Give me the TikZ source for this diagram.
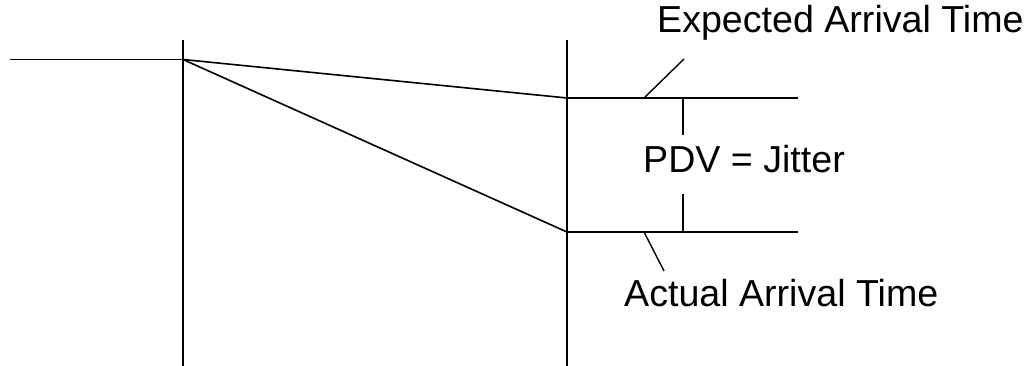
\documentclass[tikz,border=0pt]{standalone}
\usepackage{fontspec}
\setmainfont{Liberation Sans}
\begin{document}
\begin{tikzpicture}[x=1pt,y=-1pt,
  ln/.style={line width=1.6pt,line cap=butt},
  thin/.style={line width=1.4pt},
  lbl/.style={anchor=base west,inner sep=0pt,font=\fontsize{37.6}{44}\selectfont}]
\useasboundingbox (0,0) rectangle (1032,366);
% points
\coordinate (start) at (10,59.5);
\coordinate (send) at (183,59.5);
\coordinate (v1top) at (183,40);
\coordinate (v1bot) at (183,366);
\coordinate (v2top) at (567,40);
\coordinate (v2bot) at (567,366);
\coordinate (exp) at (567,98);
\coordinate (expend) at (798,98);
\coordinate (act) at (567,232);
\coordinate (actend) at (798,232);
\coordinate (tickA) at (683,98);
\coordinate (tickB) at (683,135);
\coordinate (tickC) at (683,194);
\coordinate (tickD) at (683,232);
\coordinate (expleadA) at (644,98);
\coordinate (expleadB) at (684,59);
\coordinate (actleadA) at (644,232);
\coordinate (actleadB) at (664,271);
% labels
\node[lbl] (explbl) at (657,33) {Expected Arrival Time};
\node[lbl] (pdv) at (643,172) {PDV = Jitter};
\node[lbl] (actlbl) at (624,306) {Actual Arrival Time};
% lines
\draw[ln] (start) -- (send);
\draw[ln] (v1top) -- (v1bot);
\draw[ln] (v2top) -- (v2bot);
\draw[ln] (send) -- (exp);
\draw[ln] (send) -- (act);
\draw[ln] (exp) -- (expend);
\draw[ln] (act) -- (actend);
\draw[thin] (tickA) -- (tickB);
\draw[thin] (tickC) -- (tickD);
\draw[thin] (expleadA) -- (expleadB);
\draw[thin] (actleadA) -- (actleadB);
\end{tikzpicture}
\end{document}
